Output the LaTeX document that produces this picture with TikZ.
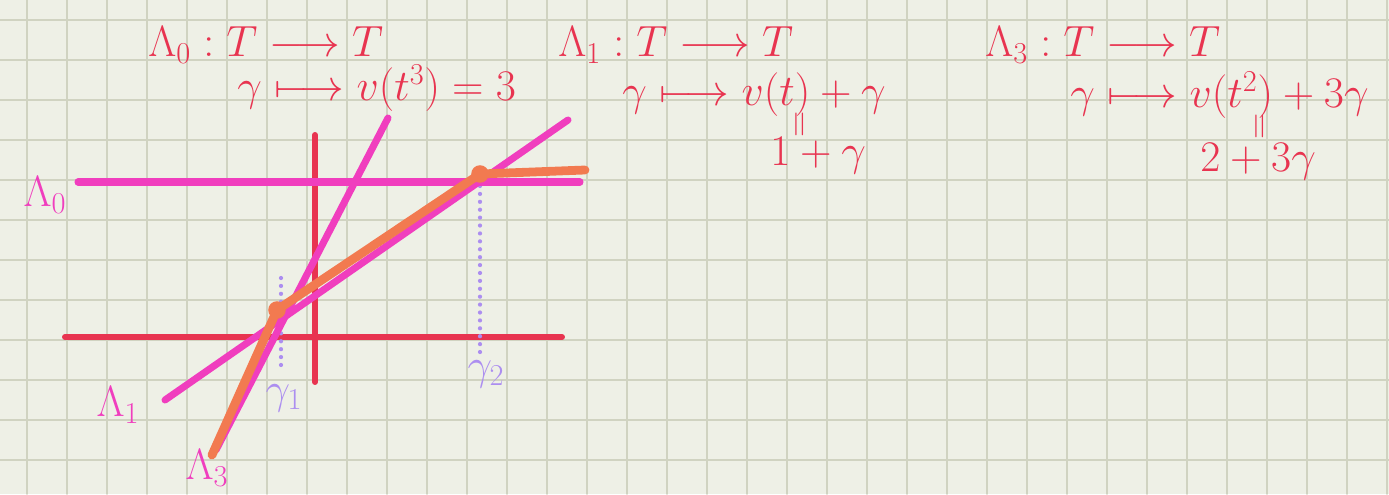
\documentclass[tikz,border=0pt]{standalone}
\usepackage{amsmath,amssymb}
\definecolor{paper}{RGB}{238,240,230}
\definecolor{gridgreen}{RGB}{208,211,193}
\definecolor{axisred}{RGB}{232,52,80}
\definecolor{tropink}{RGB}{240,62,190}
\definecolor{minorange}{RGB}{242,122,80}
\definecolor{gamlilac}{RGB}{172,142,240}
\begin{document}
\begin{tikzpicture}[x=0.02cm, y=-0.02cm, line cap=round,
    gridline/.style={gridgreen, line width=1pt},
    axisline/.style={axisred, line width=3.4pt},
    lamline/.style={tropink, line width=4pt},
    minline/.style={minorange, line width=5pt, line join=round},
    gamdots/.style={gamlilac, line width=2.4pt, dash pattern=on 0pt off 4.5pt},
    redtext/.style={axisred, font=\fontsize{26}{30}\selectfont, inner sep=0pt, anchor=west},
    pinktext/.style={tropink, font=\fontsize{26}{30}\selectfont, inner sep=0pt},
    liltext/.style={gamlilac, font=\fontsize{24}{28}\selectfont, inner sep=0pt},
    eqmark/.style={axisred, rotate=90, inner sep=0pt, font=\fontsize{22}{24}\selectfont}]
    % Paper and grid
    \useasboundingbox (0,0) rectangle (1389,494);
    \fill[paper] (0,0) rectangle (1389,494);
    \foreach \gx in {27,67,...,1387}
        \draw[gridline] (\gx,0) -- (\gx,494);
    \foreach \gy in {20,60,...,460}
        \draw[gridline] (0,\gy) -- (1389,\gy);

    % Draw axes
    \draw[axisline] (65,337) -- (562,337);
    \draw[axisline] (315,135) -- (315,382);

    % Break points
    \coordinate (g1) at (277,310);
    \coordinate (g2) at (480,174);

    % Dotted lines down to gamma_1, gamma_2
    \draw[gamdots] (281,278) -- (281,368);
    \draw[gamdots] (480,186) -- (480,356);

    % The three lines
    \draw[lamline] (78,182) -- (580,182);
    \draw[lamline] (165,400) -- (568,120);
    \draw[lamline] (388,118) -- (216,450);

    % Minimum in orange
    \draw[minline] (212,455) -- (g1) -- (g2) -- (585,170);
    \fill[minorange] (g1) circle (5pt);
    \fill[minorange] (g2) circle (5pt);

    % Labels in the graph
    \node[pinktext] (lam0lab) at (45,195) {$\Lambda_0$};
    \node[pinktext] (lam1lab) at (118,405) {$\Lambda_1$};
    \node[pinktext] (lam3lab) at (207,468) {$\Lambda_3$};
    \node[liltext] (gam1lab) at (284,398) {$\gamma_1$};
    \node[liltext] (gam2lab) at (486,374) {$\gamma_2$};

    % Maps
    \node[redtext] (lam0def) at (148,45) {$\Lambda_0 : T \longrightarrow T$};
    \node[redtext] (lam0map) at (237,88) {$\gamma \longmapsto v(t^3) = 3$};
    \node[redtext] (lam1def) at (558,45) {$\Lambda_1 : T \longrightarrow T$};
    \node[redtext] (lam1map) at (622,95) {$\gamma \longmapsto v(t) + \gamma$};
    \node[eqmark] (lam1eq) at (802,124) {$=$};
    \node[redtext] (lam1val) at (770,156) {$1+\gamma$};
    \node[redtext] (lam3def) at (985,45) {$\Lambda_3 : T \longrightarrow T$};
    \node[redtext] (lam3map) at (1070,95) {$\gamma \longmapsto v(t^2) + 3\gamma$};
    \node[eqmark] (lam3eq) at (1262,126) {$=$};
    \node[redtext] (lam3val) at (1200,162) {$2 + 3\gamma$};
\end{tikzpicture}
\end{document}
